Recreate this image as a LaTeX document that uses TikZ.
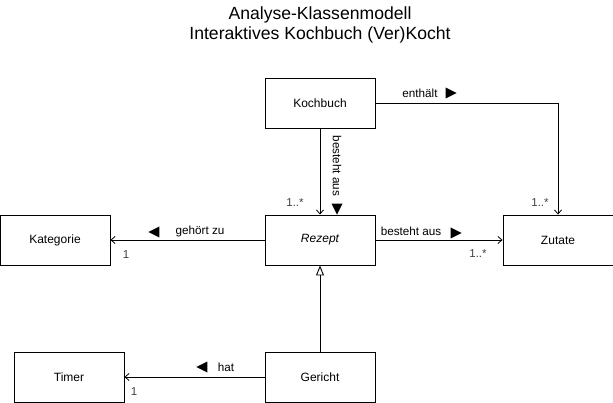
\documentclass[tikz,border=0pt]{standalone}
\usepackage{fontspec}
\setmainfont{Liberation Sans}
\usetikzlibrary{arrows.meta,shapes.geometric}
\begin{document}
\begin{tikzpicture}[x=1pt,y=-1pt,
  cls/.style={draw,line width=0.9pt,minimum width=110pt,minimum height=50pt,inner sep=0,font=\fontsize{12}{14}\selectfont},
  conn/.style={line width=0.9pt},
  assoc/.style={conn,-{Straight Barb[length=4pt,width=7pt,line width=0.8pt]}},
  inh/.style={conn,-{Triangle[open,length=10pt,width=8pt,line width=0.9pt]}},
  lbl/.style={font=\fontsize{11.7}{13}\selectfont,inner sep=0},
  mult/.style={font=\fontsize{11.5}{13}\selectfont,inner sep=0,text=black!75},
  tri/.style={isosceles triangle,fill=black,inner sep=0,minimum height=11pt,minimum width=11pt,isosceles triangle stretches},
  title/.style={font=\fontsize{17.6}{20}\selectfont,inner sep=0,align=center}
]
\useasboundingbox (0,0) rectangle (613,403);
\node[title] (t) at (320,25) {Analyse-Klassenmodell\\Interaktives Kochbuch (Ver)Kocht};

\node[cls] (kochbuch) at (320,103) {Kochbuch};
\node[cls] (rezept) at (320,240) {\itshape Rezept};
\node[cls] (kategorie) at (55,240) {Kategorie};
\node[cls] (zutate) at (558,240) {Zutate};
\node[cls] (timer) at (69,377) {Timer};
\node[cls] (gericht) at (320,377) {Gericht};

% Kochbuch -> Rezept
\draw[assoc] (kochbuch) -- (rezept);
\node[lbl,rotate=-90] (l1) at (337,166) {besteht aus};
\node[tri,shape border rotate=-90] (t1) at (337,207) {};
\node[mult] (m1) at (295,203) {1..*};

% Kochbuch -> Zutate
\draw[assoc] (kochbuch.east) -| (zutate.north);
\node[lbl] (l2) at (420,93) {enthält};
\node[tri] (t2) at (449,93) {};
\node[mult] (m2) at (540,203) {1..*};

% Rezept -> Zutate
\draw[assoc] (rezept) -- (zutate);
\node[lbl] (l3) at (411,231) {besteht aus};
\node[tri] (t3) at (454,233) {};
\node[mult] (m3) at (478,254) {1..*};

% Rezept -> Kategorie
\draw[assoc] (rezept) -- (kategorie);
\node[lbl] (l4) at (200,231) {gehört zu};
\node[tri,shape border rotate=180] (t4) at (156,232) {};
\node[mult] (m4) at (126,255) {1};

% Gericht -> Rezept (generalization)
\draw[inh] (gericht) -- (rezept);

% Gericht -> Timer
\draw[assoc] (gericht) -- (timer);
\node[lbl] (l5) at (226,367) {hat};
\node[tri,shape border rotate=180] (t5) at (204,367) {};
\node[mult] (m5) at (134,392) {1};
\end{tikzpicture}
\end{document}
